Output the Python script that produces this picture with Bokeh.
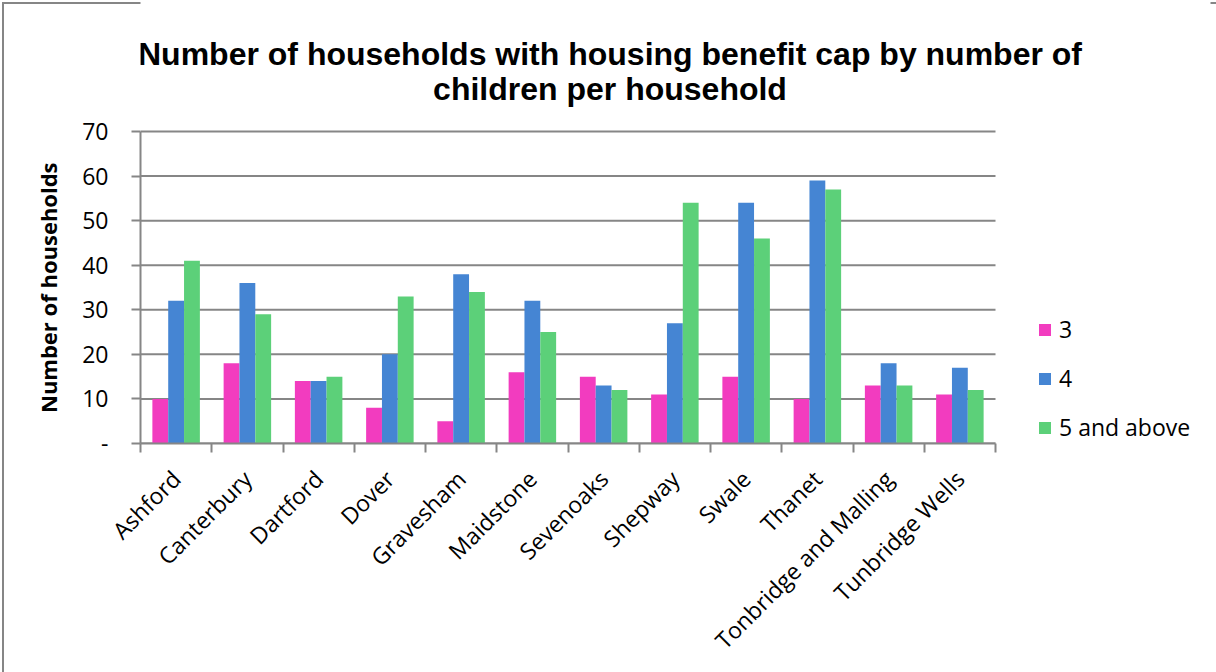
from bokeh.plotting import figure
from bokeh.models import (ColumnDataSource, Range1d, FixedTicker, Legend, LegendItem, Label)
from bokeh.transform import dodge
from bokeh.embed import file_html
from bokeh.resources import INLINE
import math

districts = ["Ashford", "Canterbury", "Dartford", "Dover", "Gravesham", "Maidstone",
             "Sevenoaks", "Shepway", "Swale", "Thanet", "Tonbridge and Malling", "Tunbridge Wells"]
series_names = ["3", "4", "5 and above"]
children_3 = [10, 18, 14, 8, 5, 16, 15, 11, 15, 10, 13, 11]
children_4 = [32, 36, 14, 20, 38, 32, 13, 27, 54, 59, 18, 17]
children_5plus = [41, 29, 15, 33, 34, 25, 12, 54, 46, 57, 13, 12]
y_ticks = [0, 10, 20, 30, 40, 50, 60, 70]
title_line1 = "Number of households with housing benefit cap by number of"
title_line2 = "children per household"
y_title = "Number of households"

colors = ["#F23CBF", "#4585D3", "#5CD079"]
GRAY = "#868686"

n = len(districts)
y_max = y_ticks[-1]
centers = [i + 0.5 for i in range(n)]
source = ColumnDataSource(dict(x=centers, s3=children_3, s4=children_4, s5=children_5plus))

# Frame spans the canvas from x=140 to 1210 and from y=0 to 443 (px);
# the bar area itself is 140..995 x 131..443.
FRAME_L, FRAME_R, AXIS_R = 140, 1210, 995
PLOT_TOP, FRAME_B = 131, 443
x_end = n * (FRAME_R - FRAME_L) / (AXIS_R - FRAME_L)
y_end = y_max * FRAME_B / (FRAME_B - PLOT_TOP)

p = figure(width=1216, height=672, output_backend="svg", toolbar_location=None,
           x_range=Range1d(0, x_end), y_range=Range1d(0, y_end),
           min_border_left=FRAME_L, min_border_right=1216 - FRAME_R,
           min_border_top=0, min_border_bottom=672 - FRAME_B)
p.outline_line_color = None
p.background_fill_color = "white"
p.border_fill_color = None
p.styles = {"box-shadow": "inset 2px 2px 0 0 white, inset 4px 4px 0 0 #868686",
            "background": "white"}

# horizontal gridlines over the bar area only
p.segment(x0=[0] * len(y_ticks), x1=[n] * len(y_ticks), y0=y_ticks, y1=y_ticks,
          line_color=GRAY, line_width=2)

bw = 1.0 / 4.5
r1 = p.vbar(x=dodge("x", -bw, range=p.x_range), top="s3", width=bw, source=source,
            fill_color=colors[0], line_color=None)
r2 = p.vbar(x=dodge("x", 0, range=p.x_range), top="s4", width=bw, source=source,
            fill_color=colors[1], line_color=None)
r3 = p.vbar(x=dodge("x", bw, range=p.x_range), top="s5", width=bw, source=source,
            fill_color=colors[2], line_color=None)

# x axis
xa = p.xaxis[0]
xa.bounds = (0, n)
xa.ticker = FixedTicker(ticks=centers, minor_ticks=list(range(n + 1)))
xa.major_label_overrides = {c: d for c, d in zip(centers, districts)}
xa.major_label_orientation = math.pi / 4
xa.major_tick_out = 0
xa.major_tick_in = 0
xa.minor_tick_out = 9
xa.minor_tick_in = 0
xa.minor_tick_line_color = GRAY
xa.minor_tick_line_width = 2
xa.axis_line_color = GRAY
xa.axis_line_width = 2
xa.major_label_standoff = 22
xa.major_label_text_font = "Open Sans"
xa.major_label_text_font_size = "23px"
xa.major_label_text_color = "black"

# y axis
ya = p.yaxis[0]
ya.bounds = (0, y_max)
ya.ticker = FixedTicker(ticks=y_ticks)
ya.major_label_overrides = {0: "-"}
ya.major_tick_out = 9
ya.major_tick_in = 0
ya.minor_tick_line_color = None
ya.major_tick_line_color = GRAY
ya.major_tick_line_width = 2
ya.axis_line_color = GRAY
ya.axis_line_width = 2
ya.major_label_standoff = 23
ya.major_label_text_font = "Open Sans"
ya.major_label_text_font_size = "23px"
ya.major_label_text_color = "black"
# the frame reaches the canvas top, so pad the rotated title with no-break spaces
# to centre it on the bar area (131..443) rather than on the whole frame
ya.axis_label = y_title + "\u00a0" * 23
ya.axis_label_text_font = "Open Sans"
ya.axis_label_text_font_style = "bold"
ya.axis_label_text_font_size = "22px"
ya.axis_label_text_color = "black"
ya.axis_label_standoff = 16

p.xgrid.visible = False
p.ygrid.visible = False

legend = Legend(items=[LegendItem(label=series_names[0], renderers=[r1]),
                       LegendItem(label=series_names[1], renderers=[r2]),
                       LegendItem(label=series_names[2], renderers=[r3])],
                location=(AXIS_R + 42 - FRAME_L, 0), orientation="vertical",
                glyph_width=15, glyph_height=15, label_height=15, spacing=17,
                padding=0, margin=0, border_line_color=None, background_fill_alpha=0,
                label_text_font="Open Sans", label_text_font_size="23px",
                label_text_color="black", label_standoff=7)
p.add_layout(legend, "center")

# two-line title, positioned in screen px from the frame's bottom-left corner
title_cx = 609.5 - FRAME_L
for txt, baseline in ((title_line1, 53), (title_line2, 88)):
    p.add_layout(Label(x=title_cx, y=FRAME_B - baseline, x_units="screen", y_units="screen",
                       text=txt, text_font="Liberation Sans", text_font_style="bold",
                       text_font_size="32px", text_align="center",
                       text_baseline="alphabetic", text_color="black"))

open("out.html", "w").write(file_html(p, INLINE))
